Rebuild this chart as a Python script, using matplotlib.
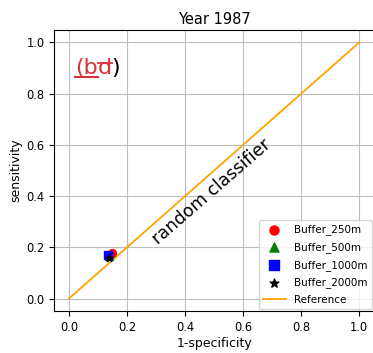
import matplotlib
matplotlib.use("Agg")
import matplotlib.pyplot as plt

# buffer results (1-specificity, sensitivity)
buffers = ["Buffer_250m", "Buffer_500m", "Buffer_1000m", "Buffer_2000m"]
fpr = [0.148, 0.138, 0.134, 0.138]
tpr = [0.176, 0.165, 0.169, 0.157]
colors = ["red", "green", "blue", "black"]
markers = ["o", "^", "s", "*"]

ref_x = [0, 1]
ref_y = [0, 1]
ticks = [0.0, 0.2, 0.4, 0.6, 0.8, 1.0]

fig = plt.figure(figsize=(3.73, 3.53), dpi=100)
ax = fig.add_axes([0.146, 0.118, 0.856, 0.798])

for name, x, y, c, m in zip(buffers, fpr, tpr, colors, markers):
    ax.scatter(x, y, color=c, marker=m, s=32, label=name, zorder=3)
ax.plot(ref_x, ref_y, color="orange", linewidth=1.3, label="Reference")

ax.set_xlim(-0.05, 1.05)
ax.set_ylim(-0.05, 1.05)
ax.set_xticks(ticks)
ax.set_yticks(ticks)
ax.tick_params(labelsize=8.3)
ax.grid(True, color="#bdbdbd", linewidth=0.8)
ax.set_xlabel("1-specificity", fontsize=9, labelpad=2)
ax.set_ylabel("sensitivity", fontsize=9, labelpad=3)
ax.set_title("Year 1987", fontsize=10.5, pad=4)

ax.text(0.305, 0.208, "random classifier", fontsize=12.5, rotation=41,
        rotation_mode="anchor", ha="left", va="baseline")

ax.legend(loc="lower right", fontsize=7.5, handlelength=2.2, borderaxespad=0.2,
          labelspacing=0.65, markerscale=1.15)

# edited panel label: "(b" underlined, "d" struck out, ")" in black
red = "#d9313a"
fig.canvas.draw()
r = fig.canvas.get_renderer()
t1 = ax.text(0.02, 0.875, "(b", fontsize=16, color=red)
fig.canvas.draw()
bb1 = t1.get_window_extent(r)
inv = ax.transData.inverted()
x2 = inv.transform((bb1.x1, bb1.y0))[0]
t2 = ax.text(x2, 0.875, "d", fontsize=16, color=red)
fig.canvas.draw()
bb2 = t2.get_window_extent(r)
x3 = inv.transform((bb2.x1, bb2.y0))[0]
ax.text(x3, 0.875, ")", fontsize=16, color="black")
ax.plot([0.02, x2], [0.866, 0.866], color=red, linewidth=1.5)
ax.plot([x2, x3], [0.918, 0.918], color=red, linewidth=1.3)

fig.savefig("out.png", dpi=100)
